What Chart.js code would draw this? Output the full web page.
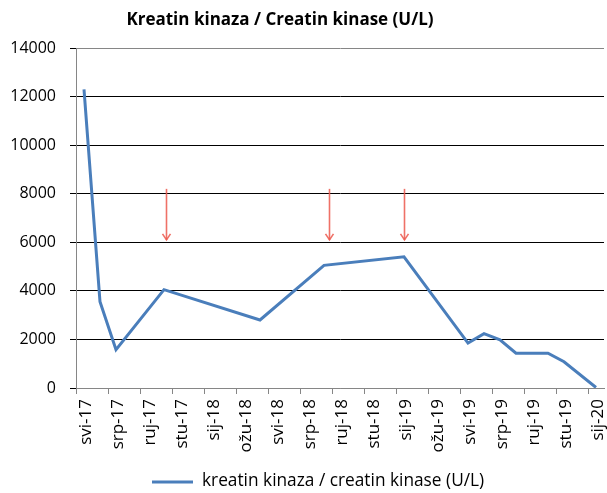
<!DOCTYPE html>
<html>
<head>
<meta charset="utf-8">
<script src="https://cdn.jsdelivr.net/npm/chart.js@4"></script>
<style>
  html, body { margin: 0; padding: 0; background: #fff; }
  #wrap { width: 607px; height: 493px; position: relative; }
</style>
</head>
<body>
<div id="wrap"><canvas id="c" width="607" height="493"></canvas></div>
<script>
// ---- data ----
const titleText = 'Kreatin kinaza / Creatin kinase (U/L)';
const seriesLabel = 'kreatin kinaza / creatin kinase (U/L)';
const monthNames = ['sij','velj','ožu','tra','svi','lip','srp','kol','ruj','lis','stu','pro'];
const xTickLabels = ['svi-17','srp-17','ruj-17','stu-17','sij-18','ožu-18','svi-18','srp-18','ruj-18','stu-18','sij-19','ožu-19','svi-19','srp-19','ruj-19','stu-19','sij-20'];
const pointDates = ['svi-17','lip-17','srp-17','lis-17','tra-18','kol-18','sij-19','svi-19','lip-19','srp-19','kol-19','lis-19','stu-19','sij-20'];
const ckValues = [12300, 3550, 1580, 4050, 2800, 5050, 5400, 1850, 2240, 1980, 1430, 1430, 1080, 20];
const yTicks = [0, 2000, 4000, 6000, 8000, 10000, 12000, 14000];
const arrowDates = ['lis-17', 'kol-18', 'sij-19'];
const arrowShift = [0.1, 0.3, 0.0];
const arrowFrom = 8200;
const arrowTo = 6100;

// month index relative to svi-17
function monthIndex(label) {
  const [m, y] = label.split('-');
  return (parseInt(y, 10) - 17) * 12 + monthNames.indexOf(m) - 4;
}
const points = pointDates.map((d, i) => ({ x: monthIndex(d), y: ckValues[i] }));
const xTickValues = xTickLabels.map(l => monthIndex(l) - 0.5);
const FONT = '"Open Sans", "Noto Sans", sans-serif';

const decorPlugin = {
  id: 'decor',
  afterDatasetsDraw(chart) {
    const { ctx, scales: { x, y } } = chart;
    ctx.save();
    ctx.strokeStyle = 'rgba(236,88,76,0.85)';
    ctx.lineWidth = 1.6;
    arrowDates.forEach((d, i) => {
      const px = Math.round(x.getPixelForValue(monthIndex(d) + arrowShift[i])) + 0.5;
      const y0 = y.getPixelForValue(arrowFrom);
      const y1 = y.getPixelForValue(arrowTo);
      ctx.beginPath();
      ctx.moveTo(px, y0);
      ctx.lineTo(px, y1);
      ctx.stroke();
      ctx.beginPath();
      ctx.moveTo(px - 4, y1 - 6);
      ctx.lineTo(px, y1);
      ctx.lineTo(px + 4, y1 - 6);
      ctx.stroke();
    });
    ctx.restore();
  },
  afterDraw(chart) {
    const { ctx } = chart;
    ctx.save();
    ctx.fillStyle = '#000';
    ctx.font = 'bold 17px ' + FONT;
    ctx.textAlign = 'center';
    ctx.textBaseline = 'middle';
    ctx.fillText(titleText, 280, 20);
    ctx.strokeStyle = '#4a7ebb';
    ctx.lineWidth = 3;
    ctx.beginPath();
    ctx.moveTo(152, 482);
    ctx.lineTo(193, 482);
    ctx.stroke();
    ctx.font = '17.3px ' + FONT;
    ctx.textAlign = 'left';
    ctx.fillText(seriesLabel, 202, 481);
    ctx.restore();
  }
};

new Chart(document.getElementById('c'), {
  type: 'line',
  data: {
    datasets: [{
      label: seriesLabel,
      data: points,
      borderColor: '#4a7ebb',
      backgroundColor: '#4a7ebb',
      borderWidth: 3,
      pointRadius: 0,
      tension: 0,
      fill: false
    }]
  },
  options: {
    responsive: false,
    animation: false,
    devicePixelRatio: 1,
    layout: { padding: { left: 0, right: 3, top: 48, bottom: 0 } },
    plugins: { legend: { display: false }, title: { display: false }, tooltip: { enabled: false } },
    scales: {
      x: {
        type: 'linear',
        min: -0.5,
        max: 32.5,
        afterBuildTicks(scale) { scale.ticks = xTickValues.map(v => ({ value: v })); },
        afterFit(scale) { scale.height = 105; scale.paddingLeft = 0; scale.paddingRight = 0; },
        grid: { display: true, drawOnChartArea: false, tickLength: 6, tickColor: '#868686', lineWidth: 1 },
        border: { display: true, color: '#868686', width: 1 },
        ticks: {
          autoSkip: false,
          minRotation: 90,
          maxRotation: 90,
          padding: 5,
          labelOffset: 10,
          color: '#000',
          font: { family: FONT, size: 17 },
          callback: (v, i) => xTickLabels[i]
        }
      },
      y: {
        min: 0,
        max: 14000,
        afterBuildTicks(scale) { scale.ticks = yTicks.map(v => ({ value: v })); },
        afterFit(scale) { scale.width = 76; },
        grid: {
          color: c => (c.tick && (c.tick.value === 0 || c.tick.value === 14000)) ? '#868686' : '#000',
          tickColor: '#000',
          tickLength: 6,
          lineWidth: 1
        },
        border: { display: true, color: '#868686', width: 1 },
        ticks: {
          padding: 14,
          color: '#000',
          font: { family: FONT, size: 16 },
          callback: v => String(v)
        }
      }
    }
  },
  plugins: [decorPlugin]
});
</script>
</body>
</html>
